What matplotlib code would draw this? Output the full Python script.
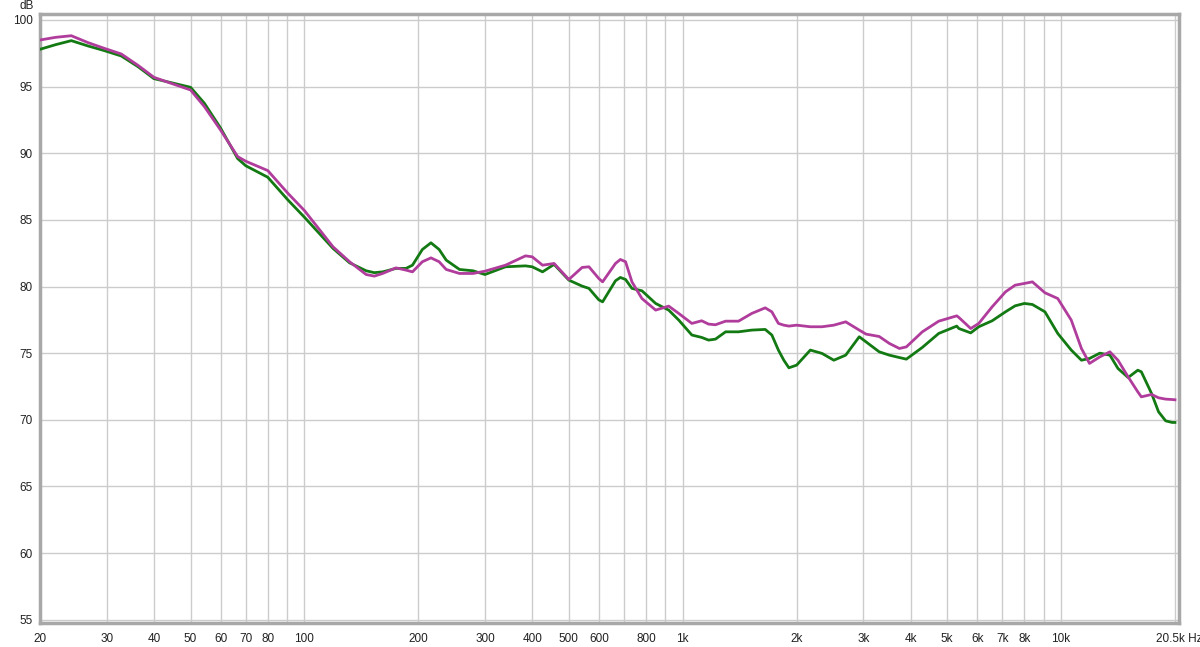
import numpy as np
import matplotlib
matplotlib.use("Agg")
import matplotlib.pyplot as plt
from matplotlib.ticker import FixedLocator, NullFormatter

# frequency points (Hz)
freq = [20, 22, 24.2, 26.8, 29.6, 32.8, 36.3, 40, 44.4, 50, 54.4, 60, 66.6, 70, 80,
        90.4, 100, 119, 131.6, 145.6, 153, 161, 174.6, 185.6, 193, 205, 216, 227,
        237, 257, 279, 300, 340, 384, 400, 426, 457, 500, 542, 565, 600, 614, 664,
        684, 706, 734, 780, 848, 918, 976, 1057, 1122, 1170, 1220, 1298, 1404,
        1522, 1652, 1720, 1790, 1850, 1908, 2000, 2174, 2334, 2508, 2696, 2928,
        3050, 3306, 3516, 3738, 3900, 4298, 4750, 5300, 5368, 5770, 6060, 6576,
        7130, 7560, 8000, 8400, 9066, 9800, 10640, 11320, 11890, 12660, 13460,
        14140, 15040, 15950, 16300, 17350, 18100, 18900, 19660, 20000]

green_db = [97.8, 98.15, 98.45, 98.05, 97.7, 97.3, 96.5, 95.6, 95.3, 94.95, 93.75,
            91.9, 89.6, 89.06, 88.2, 86.5, 85.2, 82.86, 81.78, 81.18, 81.04, 81.1,
            81.36, 81.36, 81.6, 82.78, 83.28, 82.78, 81.98, 81.28, 81.18, 80.9,
            81.48, 81.55, 81.48, 81.1, 81.66, 80.48, 80.03, 79.86, 79.0, 78.85,
            80.43, 80.68, 80.53, 79.86, 79.68, 78.73, 78.23, 77.48, 76.36, 76.18,
            75.98, 76.05, 76.6, 76.6, 76.73, 76.78, 76.36, 75.23, 74.47, 73.9, 74.1,
            75.23, 74.98, 74.47, 74.85, 76.23, 75.85, 75.1, 74.85, 74.67, 74.55,
            75.43, 76.48, 77.03, 76.85, 76.52, 76.98, 77.43, 78.1, 78.55, 78.73,
            78.65, 78.1, 76.48, 75.23, 74.47, 74.6, 75.0, 74.85, 73.85, 73.17, 73.72,
            73.6, 71.97, 70.6, 69.92, 69.8, 69.8]

magenta_db = [98.5, 98.7, 98.82, 98.3, 97.87, 97.45, 96.6, 95.7, 95.25, 94.75, 93.5,
              91.75, 89.75, 89.4, 88.7, 87.0, 85.7, 82.98, 81.86, 80.9, 80.78, 80.98,
              81.4, 81.23, 81.1, 81.86, 82.15, 81.86, 81.28, 80.98, 80.98, 81.15,
              81.6, 82.3, 82.23, 81.6, 81.73, 80.53, 81.43, 81.48, 80.6, 80.35,
              81.73, 82.03, 81.86, 80.35, 79.1, 78.23, 78.53, 77.98, 77.23, 77.43,
              77.18, 77.13, 77.4, 77.4, 77.98, 78.4, 78.1, 77.23, 77.1, 77.03, 77.1,
              76.98, 76.98, 77.1, 77.35, 76.73, 76.43, 76.25, 75.73, 75.35, 75.47,
              76.6, 77.4, 77.8, 77.68, 76.85, 77.23, 78.48, 79.6, 80.1, 80.23, 80.35,
              79.53, 79.1, 77.48, 75.35, 74.23, 74.72, 75.1, 74.47, 73.22, 72.1,
              71.72, 71.9, 71.65, 71.55, 71.52, 71.5]

grid_freqs = [20, 30, 40, 50, 60, 70, 80, 90, 100, 200, 300, 400, 500, 600, 700, 800,
              900, 1000, 2000, 3000, 4000, 5000, 6000, 7000, 8000, 9000, 10000, 20000]
label_freqs = [20, 30, 40, 50, 60, 70, 80, 100, 200, 300, 400, 500, 600, 800, 1000,
               2000, 3000, 4000, 5000, 6000, 7000, 8000, 10000, 20500]
label_text = ["20", "30", "40", "50", "60", "70", "80", "100", "200", "300", "400",
              "500", "600", "800", "1k", "2k", "3k", "4k", "5k", "6k", "7k", "8k",
              "10k", "20.5k Hz"]
db_ticks = [55, 60, 65, 70, 75, 80, 85, 90, 95, 100]

plt.rcParams['font.family'] = ['Liberation Sans', 'DejaVu Sans']

fig = plt.figure(figsize=(12, 6.47), dpi=100)
ax = fig.add_axes([40 / 1200, 1 - 623 / 647, 1139 / 1200, 609 / 647])

ax.set_xscale('log')
ax.set_xlim(20, 20500)
ax.set_ylim(54.75, 100.45)

# grid lines
for f in grid_freqs:
    ax.axvline(f, color='#cccccc', lw=1.0, zorder=1)
for d in db_ticks:
    ax.axhline(d, color='#cccccc', lw=1.0, zorder=1)

ax.plot(freq, green_db, color='#137a13', lw=2.0, zorder=3, solid_joinstyle='round')
ax.plot(freq, magenta_db, color='#b03c9c', lw=2.0, zorder=4, solid_joinstyle='round')

ax.xaxis.set_major_locator(FixedLocator(label_freqs))
ax.xaxis.set_minor_formatter(NullFormatter())
ax.xaxis.set_minor_locator(FixedLocator([]))
ax.set_xticklabels(label_text)
ax.set_yticks(db_ticks)
ax.set_yticklabels([str(d) for d in db_ticks])
ax.tick_params(axis='both', length=0, labelsize=8.5, colors='#222222')
ax.tick_params(axis='x', pad=7)
ax.tick_params(axis='y', pad=5)

for s in ax.spines.values():
    s.set_color('#a8a8a8')
    s.set_linewidth(2.5)

fig.text(27 / 1200, 1 - 6 / 647, "dB", fontsize=8.5, color='#222222', ha='center', va='center')

fig.savefig("out.png", dpi=100)
